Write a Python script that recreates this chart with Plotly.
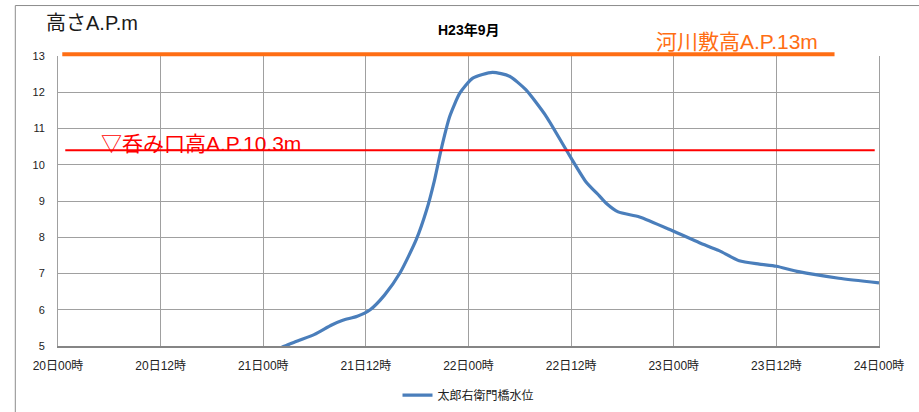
import plotly.graph_objects as go
import pandas as pd

# Water level of 太郎右衛門橋 (hours after 2011-09-20 00:00, level A.P. m)
hours = [24.0, 25.8, 28.0, 30.0, 32.0, 33.3, 35.0, 36.5, 38.2, 40.0, 41.9, 43.1,
         44.0, 44.8, 45.8, 47.0, 48.5, 50.8, 52.8, 54.7, 57.1, 59.4, 61.7, 63.3,
         64.1, 65.5, 68.0, 71.85, 75.0, 77.3, 79.65, 82.0, 84.0, 86.6, 91.3, 96.0]
levels = [4.82, 4.93, 5.14, 5.32, 5.58, 5.71, 5.82, 6.00, 6.41, 7.02, 7.94, 8.75,
          9.55, 10.42, 11.33, 11.98, 12.39, 12.55, 12.44, 12.07, 11.33, 10.42, 9.54, 9.14,
          8.94, 8.70, 8.56, 8.18, 7.85, 7.63, 7.35, 7.26, 7.20, 7.05, 6.87, 6.74]

start = pd.Timestamp("2011-09-20 00:00")
times = [start + pd.Timedelta(hours=h) for h in hours]

series_name = "太郎右衛門橋水位"
title_text = "H23年9月"
yaxis_label = "高さA.P.m"

# reference levels (drawn lines) and their labels
levee_level = 13.05
levee_span_h = [0.5, 90.8]
levee_label = "河川敷高A.P.13m"
intake_level = 10.4
intake_span_h = [0.85, 95.5]
intake_label = "▽呑み口高A.P.10.3m"

y_range = [5, 13]
y_ticks = [5, 6, 7, 8, 9, 10, 11, 12, 13]

FONT = "Liberation Sans, Noto Sans CJK JP, sans-serif"

fig = go.Figure()
fig.add_trace(go.Scatter(
    x=times, y=levels, mode="lines", name=series_name,
    line=dict(color="#4A7EBB", width=3.2, shape="spline", smoothing=0.6),
))

def ts(h):
    return start + pd.Timedelta(hours=h)

def yfrac(v):
    return (v - y_range[0]) / (y_range[1] - y_range[0])

fig.add_shape(type="line", xref="x", yref="paper",
              x0=ts(levee_span_h[0]), x1=ts(levee_span_h[1]), y0=yfrac(levee_level), y1=yfrac(levee_level),
              line=dict(color="#FF6E14", width=4))
fig.add_shape(type="line", xref="x", yref="paper",
              x0=ts(intake_span_h[0]), x1=ts(intake_span_h[1]), y0=yfrac(intake_level), y1=yfrac(intake_level),
              line=dict(color="#FF0000", width=2))

# outer chart frame (left and top edges visible)
fig.add_shape(type="line", xref="paper", yref="paper", x0=-0.052, x1=-0.052, y0=-0.25, y1=1.174,
              line=dict(color="#8C8C8C", width=1))
fig.add_shape(type="line", xref="paper", yref="paper", x0=-0.052, x1=1.06, y0=1.174, y1=1.174,
              line=dict(color="#8C8C8C", width=1))

fig.add_annotation(xref="paper", yref="paper", x=-0.017, y=1.115, xanchor="left", yanchor="middle",
                   text=yaxis_label, showarrow=False, font=dict(size=20, color="#1a1a1a", family=FONT))
fig.add_annotation(xref="paper", yref="paper", x=0.5, y=1.091, xanchor="center", yanchor="middle",
                   text="<b>" + title_text + "</b>", showarrow=False, font=dict(size=14, color="#000000", family=FONT))
fig.add_annotation(xref="paper", yref="paper", x=0.726, y=1.051, xanchor="left", yanchor="middle",
                   text=levee_label, showarrow=False, font=dict(size=21, color="#FF6E14", family=FONT))
fig.add_annotation(xref="paper", yref="paper", x=0.050, y=0.700, xanchor="left", yanchor="middle",
                   text=intake_label, showarrow=False, font=dict(size=21, color="#FF0000", family=FONT))

fig.update_layout(
    width=919, height=412,
    margin=dict(l=58, r=40, t=56, b=66, autoexpand=False),
    paper_bgcolor="white", plot_bgcolor="white",
    font=dict(family=FONT, color="#222222"),
    showlegend=True,
    legend=dict(orientation="h", x=0.5, xanchor="center", yref="container", y=0.041, yanchor="middle",
                font=dict(size=12, color="#222222"), bgcolor="rgba(0,0,0,0)"),
    xaxis=dict(
        range=[start, start + pd.Timedelta(hours=96)],
        tick0=start, dtick=12 * 3600 * 1000, tickformat="%d日%H時",
        showgrid=True, gridcolor="#A0A0A0", gridwidth=1,
        showline=True, linecolor="#858585", linewidth=2,
        ticks="", ticklabelstandoff=8, automargin=False,
        tickfont=dict(size=12, color="#222222"), zeroline=False,
    ),
    yaxis=dict(
        range=y_range, tickvals=y_ticks,
        showgrid=True, gridcolor="#A0A0A0", gridwidth=1,
        showline=True, linecolor="#A0A0A0", linewidth=1, mirror=True,
        ticks="", ticklabelstandoff=10, automargin=False,
        tickfont=dict(size=11, color="#222222"), zeroline=False,
    ),
)

fig.write_html("out.html", config={"displayModeBar": False},
               post_script="document.body.style.margin='0px';document.body.style.overflow='hidden';")
